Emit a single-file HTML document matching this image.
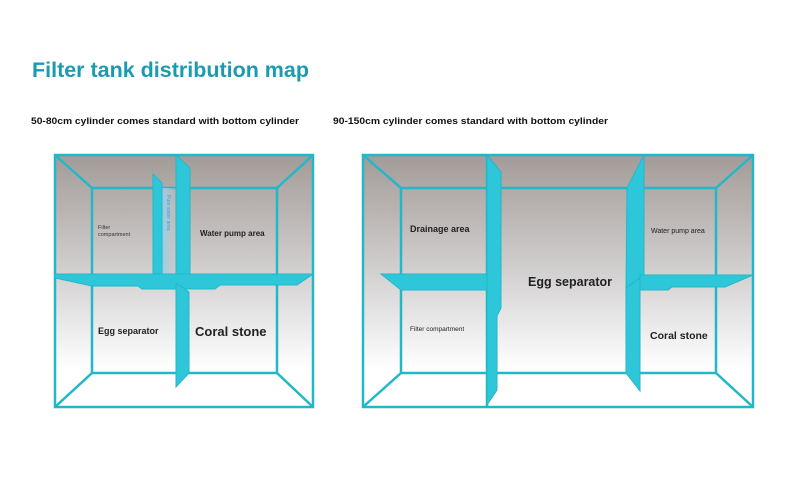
<!DOCTYPE html>
<html><head><meta charset="utf-8"><style>
html,body{margin:0;padding:0;background:#fff;width:790px;height:489px;overflow:hidden}
svg{display:block}
text{font-family:"Liberation Sans",sans-serif}
</style></head><body>
<svg width="790" height="489" viewBox="0 0 790 489" xmlns="http://www.w3.org/2000/svg">
<defs>
<linearGradient id="g" x1="0" y1="0" x2="0" y2="1">
<stop offset="0" stop-color="#a29b98"/>
<stop offset="0.5" stop-color="#d6d4d4"/>
<stop offset="0.85" stop-color="#ffffff"/>
<stop offset="1" stop-color="#ffffff"/>
</linearGradient>
<linearGradient id="pw" x1="0" y1="0" x2="1" y2="0">
<stop offset="0" stop-color="#8fd0ef"/>
<stop offset="1" stop-color="#c8c4c6" stop-opacity="0.3"/>
</linearGradient>
</defs>
<text x="32" y="77" font-size="21" font-weight="bold" fill="#1a9bb0" textLength="277" lengthAdjust="spacingAndGlyphs">Filter tank distribution map</text>
<text x="31" y="124" font-size="9.5" font-weight="bold" fill="#111" textLength="268" lengthAdjust="spacingAndGlyphs">50-80cm cylinder comes standard with bottom cylinder</text>
<text x="333" y="124" font-size="9.5" font-weight="bold" fill="#111" textLength="275" lengthAdjust="spacingAndGlyphs">90-150cm cylinder comes standard with bottom cylinder</text>

<!-- LEFT TANK -->
<g stroke="#22b8c8" stroke-width="2.5" fill="none">
<rect x="55" y="155" width="258" height="252" fill="url(#g)"/>
<rect x="92" y="188" width="185" height="185"/>
<line x1="55" y1="155" x2="92" y2="188"/><line x1="313" y1="155" x2="277" y2="188"/>
<line x1="55" y1="407" x2="92" y2="373"/><line x1="313" y1="407" x2="277" y2="373"/>
</g>
<rect x="162" y="188" width="14" height="86" fill="url(#pw)"/>
<text transform="translate(167,195) rotate(90)" font-size="5" fill="#3aa5d8">Pure water area</text>
<g fill="#2ec7d9" stroke="#22b8c8" stroke-width="1">
<polygon points="153,174 162,183 162,274 153,274"/>
<polygon points="176,155 190,168 190,274 176,274"/>
<polygon points="55,274 313,274 297,285 220,285 215,289 142,289 138,286 92,286 55,278"/>
<polygon points="176,283 189,292 189,373 176,387"/>
</g>
<text x="98" y="229" font-size="5.5" fill="#333">Filter</text>
<text x="98" y="236" font-size="5.5" fill="#333">compartment</text>
<text x="200" y="236" font-size="8" font-weight="bold" fill="#222">Water pump area</text>
<text x="98" y="334" font-size="9" font-weight="bold" fill="#222">Egg separator</text>
<text x="195" y="336" font-size="13" font-weight="bold" fill="#222">Coral stone</text>

<!-- RIGHT TANK -->
<g stroke="#22b8c8" stroke-width="2.5" fill="none">
<rect x="363" y="155" width="390" height="252" fill="url(#g)"/>
<rect x="401" y="188" width="315" height="185"/>
<line x1="363" y1="155" x2="401" y2="188"/><line x1="753" y1="155" x2="716" y2="188"/>
<line x1="363" y1="407" x2="401" y2="373"/><line x1="753" y1="407" x2="716" y2="373"/>
<line x1="487" y1="155" x2="487" y2="407"/>
</g>
<g fill="#2ec7d9" stroke="#22b8c8" stroke-width="1">
<polygon points="381,274 487,274 487,290 401,290"/>
<polygon points="487,155 501,172 501,308 497,316 497,390 487,405"/>
<polygon points="644,155 627,188 626,288 644,275"/>
<polygon points="640,275 753,275 725,287 672,287 668,290 640,290"/>
<polygon points="626,288 640,278 640,391 626,373"/>
</g>
<text x="410" y="232" font-size="9" font-weight="bold" fill="#222">Drainage area</text>
<text x="651" y="233" font-size="7" fill="#222">Water pump area</text>
<text x="528" y="286" font-size="12.5" font-weight="bold" fill="#222">Egg separator</text>
<text x="410" y="331" font-size="6.5" fill="#222">Filter compartment</text>
<text x="650" y="339" font-size="10.5" font-weight="bold" fill="#222">Coral stone</text>
</svg>
</body></html>
